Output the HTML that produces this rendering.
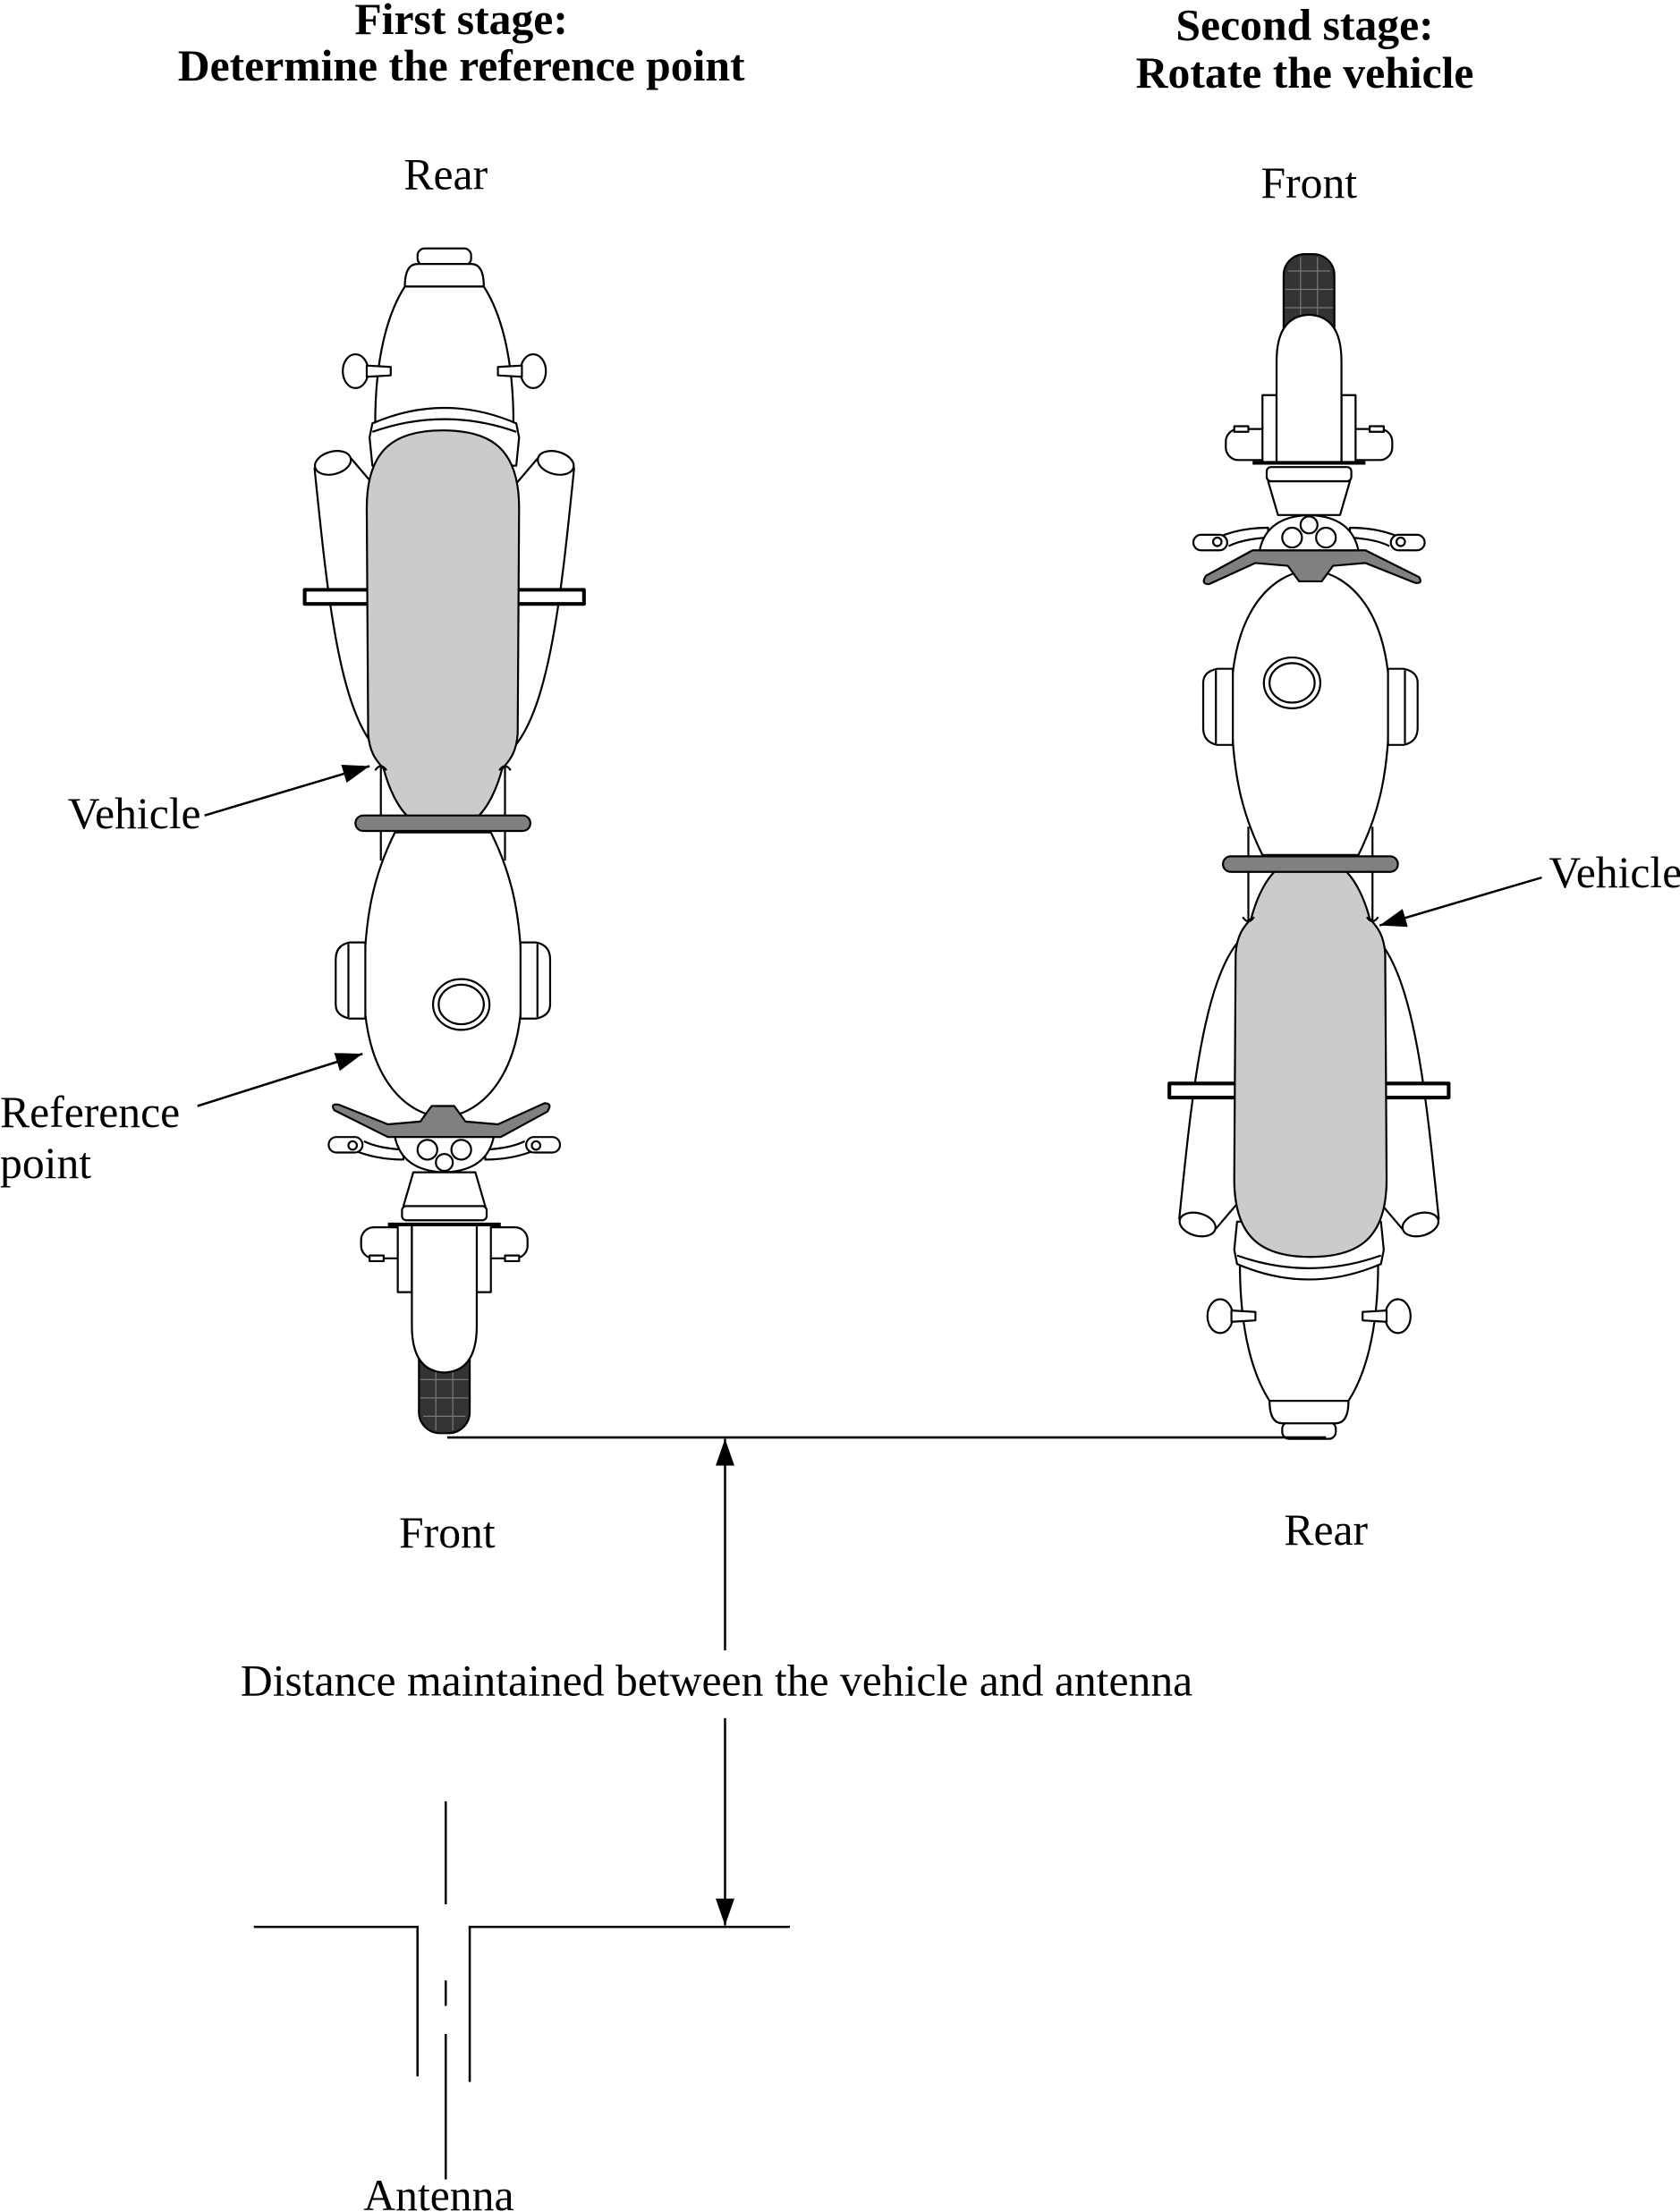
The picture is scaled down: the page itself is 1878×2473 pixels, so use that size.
<!DOCTYPE html>
<html><head><meta charset="utf-8"><style>
html,body{margin:0;padding:0;background:#fff;}
svg{display:block;}
text{font-family:"Liberation Serif",serif;font-size:31.5px;fill:#000;}
.b{font-weight:bold;}
</style></head><body>
<svg width="1878" height="2473" viewBox="0 0 1191 1568" xmlns="http://www.w3.org/2000/svg">
<defs>
<marker id="ah2" viewBox="0 0 10 10" refX="10" refY="5" markerWidth="19" markerHeight="19" markerUnits="userSpaceOnUse" orient="auto"><path d="M0,1.5 L10,5 L0,8.5 Z" fill="#000"/></marker>
<g id="bike" stroke="#000" stroke-width="1.4" fill="#fff" stroke-linejoin="round">
  <rect x="297" y="945" width="36" height="71" rx="15" fill="#333"/>
  <path d="M300,965 L330,965 M298,978 L332,978 M298,991 L332,991 M300,1004 L330,1004 M309,955 L309,1014 M321,955 L321,1014" stroke="#777" stroke-width="0.8" fill="none"/>
  <rect x="296" y="176" width="38" height="12" rx="5"/>
  <path d="M287,203 Q287,187 296,187 L334,187 Q343,187 343,203 Z"/>
  <path d="M287,203 C276,220 266,250 266,300 L364,300 C364,250 354,220 343,203 Z"/>
  <ellipse cx="252" cy="263" rx="9" ry="12"/>
  <path d="M260,259 L277,260 L277,266 L260,267 Z"/>
  <ellipse cx="378" cy="263" rx="9" ry="12"/>
  <path d="M353,260 L370,259 L370,267 L353,266 Z"/>
  <path d="M264,300 Q315,278 366,300 L368,310 L366,330 L264,330 L262,310 Z"/>
  <path d="M264,306 Q315,288 366,306" fill="none"/>
  <path d="M223,332 C232,420 240,500 266,530 L266,345 L249,325 Z"/>
  <ellipse cx="236" cy="328" rx="13" ry="8" transform="rotate(-15 236 328)"/>
  <path d="M407,332 C398,420 390,500 364,530 L364,345 L381,325 Z"/>
  <ellipse cx="394" cy="328" rx="13" ry="8" transform="rotate(15 394 328)"/>
  <rect x="216" y="418" width="198" height="10" stroke-width="2.6"/>
  <path d="M270,540 L270,610 M358,540 L358,610 M284,588 L278,604 M346,588 L352,604" fill="none"/>
  <path d="M260,360 C260,318 280,305 314,305 C348,305 368,318 368,360 L367,520 C366,535 360,540 356,545 C352,560 345,575 335,582 L293,582 C283,575 276,560 272,545 C268,540 262,535 261,520 Z" fill="#cbcbcb"/>
  <path d="M266,546 Q270,540 274,546 M354,546 Q358,540 362,546" fill="none"/>
  <path d="M280,590 C265,620 258,650 258,700 C258,760 285,790 314,792 C343,790 370,760 370,700 C370,650 363,620 348,590 Z"/>
  <rect x="252" y="578" width="124" height="11" rx="5.5" fill="#808080"/>
  <path d="M259,668 L248,668 Q238,670 238,680 L238,712 Q238,720 248,722 L259,722 Z"/>
  <path d="M247,669 L247,721" fill="none"/>
  <path d="M369,668 L380,668 Q390,670 390,680 L390,712 Q390,720 380,722 L369,722 Z"/>
  <path d="M381,669 L381,721" fill="none"/>
  <ellipse cx="327" cy="712" rx="20" ry="18"/>
  <ellipse cx="327" cy="712" rx="16" ry="14"/>
  <path d="M250,815 Q266,822 286,822 L286,815 Q268,814 258,809" />
  <rect x="233" y="806" width="24" height="11" rx="5.5"/>
  <circle cx="250" cy="812" r="3"/>
  <path d="M380,815 Q364,822 344,822 L344,815 Q362,814 372,809"/>
  <rect x="373" y="806" width="24" height="11" rx="5.5"/>
  <circle cx="380" cy="812" r="3"/>
  <path d="M237,787 Q234,782 240,783 L275,797 L298,795 L306,784 L322,784 L330,795 L353,797 L386,782 Q392,782 388,788 L355,806 L275,806 Z" fill="#808080"/>
  <path d="M280,806 L350,806 Q345,830 315,831 Q285,830 280,806 Z"/>
  <circle cx="303" cy="815" r="7"/>
  <circle cx="327" cy="815" r="7"/>
  <circle cx="315" cy="824" r="6"/>
  <path d="M293,831 L337,831 L344,855 L286,855 Z"/>
  <rect x="285" y="855" width="60" height="10" rx="3"/>
  <rect x="256" y="870" width="36" height="22" rx="9"/>
  <rect x="262" y="890" width="10" height="4"/>
  <rect x="338" y="870" width="36" height="22" rx="9"/>
  <rect x="358" y="890" width="10" height="4"/>
  <rect x="282" y="868" width="10" height="48"/>
  <rect x="338" y="868" width="10" height="48"/>
  <path d="M292,868 L292,940 Q292,972 315,973 Q338,972 338,940 L338,868 Z"/>
  <path d="M275,868 L355,868" stroke-width="2.6"/>
</g>
</defs>
<rect width="1191" height="1568" fill="#fff"/>
<use href="#bike"/>
<use href="#bike" transform="translate(1243,1196) rotate(180)"/>

<g stroke="#000" stroke-width="1.6" fill="none">
  <line x1="145" y1="578" x2="262" y2="543" marker-end="url(#ah2)"/>
  <line x1="140" y1="784" x2="257" y2="747" marker-end="url(#ah2)"/>
  <line x1="1093" y1="622" x2="978" y2="656" marker-end="url(#ah2)"/>
  <line x1="317" y1="1019" x2="940" y2="1019"/>
  <line x1="514" y1="1170" x2="514" y2="1020" marker-end="url(#ah2)"/>
  <line x1="514" y1="1218" x2="514" y2="1365" marker-end="url(#ah2)"/>
  <path d="M180,1366 L296,1366 L296,1472"/>
  <path d="M560,1366 L333,1366 L333,1476"/>
  <path d="M316,1277 L316,1350 M316,1404 L316,1422 M316,1442 L316,1545"/>
</g>

<text class="b" x="327" y="24" text-anchor="middle">First stage:</text>
<text class="b" x="327" y="57" text-anchor="middle">Determine the reference point</text>
<text class="b" x="925" y="28" text-anchor="middle">Second stage:</text>
<text class="b" x="925" y="62" text-anchor="middle">Rotate the vehicle</text>
<text x="316" y="134" text-anchor="middle">Rear</text>
<text x="928" y="140" text-anchor="middle">Front</text>
<text x="48" y="587">Vehicle</text>
<text x="0" y="799">Reference</text>
<text x="0" y="835">point</text>
<text x="1098" y="629">Vehicle</text>
<text x="317" y="1097" text-anchor="middle">Front</text>
<text x="940" y="1095" text-anchor="middle">Rear</text>
<text x="508" y="1202" text-anchor="middle">Distance maintained between the vehicle and antenna</text>
<text x="311" y="1567" text-anchor="middle">Antenna</text>
</svg>
</body></html>
